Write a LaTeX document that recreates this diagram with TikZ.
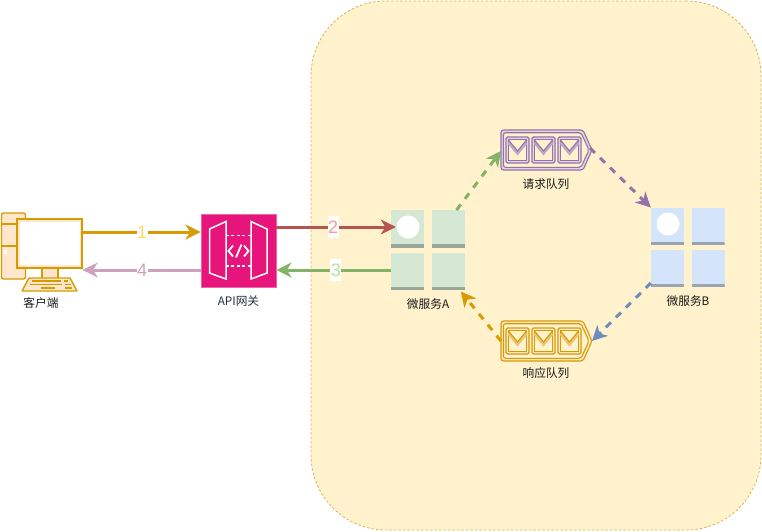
\documentclass[tikz,border=0pt]{standalone}
\usepackage{fontspec}
\setmainfont{Liberation Sans}
\newfontfamily\cjk{Noto Sans CJK SC}
\usetikzlibrary{arrows.meta,calc}
\definecolor{orangeS}{HTML}{D79B00}
\definecolor{orangeF}{HTML}{FFE6CC}
\definecolor{panelF}{HTML}{FFF2CC}
\definecolor{panelS}{HTML}{D6B656}
\definecolor{redS}{HTML}{B85450}
\definecolor{greenS}{HTML}{82B366}
\definecolor{blueS}{HTML}{6C8EBF}
\definecolor{purpleS}{HTML}{9673A6}
\definecolor{purpleF}{HTML}{E1D5E7}
\definecolor{pinkS}{HTML}{CDA2BE}
\definecolor{gwF}{HTML}{E7157B}
\definecolor{gwS}{HTML}{F065A8}
\definecolor{greenF}{HTML}{D5E8D4}
\definecolor{blueF}{HTML}{D4E4FA}
\definecolor{textC}{HTML}{232F3E}
\definecolor{lab1}{HTML}{FFD966}
\definecolor{lab2}{HTML}{F19C99}
\definecolor{lab3}{HTML}{B9E0A5}
\definecolor{lab4}{HTML}{CDA2BE}
\tikzset{
  conn/.style={line width=3pt,-{Stealth[length=15pt,width=15pt,inset=4.5pt]}},
  dashconn/.style={conn,dash pattern=on 7pt off 7pt},
  numlabel/.style={fill=white,inner sep=0.5pt,font=\fontsize{18}{18}\selectfont,minimum height=22pt,minimum width=11pt},
  caption/.style={font=\cjk\fontsize{11.7}{12}\selectfont,text=black!90,inner sep=0pt},
  tile/.style={minimum width=33pt,minimum height=37.5pt,inner sep=0pt,fill=#1,
    path picture={\fill[black,opacity=0.28] (path picture bounding box.south west) rectangle ([yshift=3.4pt]path picture bounding box.south east);}},
  dot/.style={circle,fill=white,minimum size=23pt,inner sep=0pt},
  box/.style={inner sep=0pt,rectangle},
}
\newcommand{\envelope}[4]{% center x, center y, stroke, fill
  \draw[line width=1.1pt,#3,fill=#4,rounded corners=1.5pt] (#1-11.5,#2-13) rectangle (#1+11.5,#2+13);
  \draw[line width=1.1pt,#3,fill=panelF] (#1-9.3,#2-10.3) rectangle (#1+9.3,#2+10.3);
  \draw[line width=2.6pt,#3!45!#4] (#1-9,#2-7.5) -- (#1,#2+3.5) -- (#1+9,#2-7.5);
  \draw[line width=1.1pt,#3] (#1-9.3,#2-10.3) -- (#1,#2+1) -- (#1+9.3,#2-10.3);
}
\newcommand{\queueshape}[3]{% center y, stroke, fill
  \draw[#2,fill=#3,line width=1.1pt,rounded corners=2.5pt] (501,#1-20) -- (583,#1-20) -- (592,#1) -- (583,#1+20) -- (501,#1+20) -- cycle;
  \draw[#2,fill=panelF,line width=1.1pt,rounded corners=2pt] (503.5,#1-17.3) -- (581,#1-17.3) -- (589,#1) -- (581,#1+17.3) -- (503.5,#1+17.3) -- cycle;
  \envelope{517.5}{#1}{#2}{#3}
  \envelope{543.5}{#1}{#2}{#3}
  \envelope{569.5}{#1}{#2}{#3}
}
\begin{document}
\begin{tikzpicture}[x=1pt,y=-1pt]
\useasboundingbox (0,0) rectangle (762,531);
% panel
\node[box,draw=panelS,fill=panelF,dash pattern=on 2.5pt off 2pt,line width=0.8pt,rounded corners=75pt,minimum width=450pt,minimum height=529pt] (panel) at (536,265.5) {};

% client
\node[box,draw=orangeS,fill=orangeF,line width=1.4pt,rounded corners=2pt,minimum width=24pt,minimum height=66pt] (tower) at (13.5,246) {};
\draw[orangeS,line width=1.4pt] (1.5,224) -- (25.5,224) (1.5,246) -- (25.5,246);
\fill[white] (4,250) rectangle (7,254);
\node[box,draw=orangeS,fill=orangeF,line width=1.4pt,minimum width=16pt,minimum height=12pt] (stand) at (50,273) {};
\draw[orangeS,fill=orangeF,line width=1.4pt,rounded corners=0.5pt] (29,278) -- (70,278) -- (77,291) -- (22,291) -- cycle;
\draw[orangeS,line width=1.3pt] (32,281) -- (61,281) (64,281) -- (68,281) (30,284.5) -- (62,284.5) (65,284.5) -- (71,284.5) (41,288) -- (55,288) (65,288) -- (72,288);
\node[box,draw=orangeS,fill=orangeF,line width=1.4pt,minimum width=65pt,minimum height=49pt] (screen) at (49.5,243.5) {};
\fill[white] (20,221.5) rectangle (79.5,265);
\node[caption] (clientL) at (41,303) {客户端};

% gateway
\node[box,draw=gwS,fill=gwF,line width=0.8pt,minimum width=75pt,minimum height=73pt] (gw) at (238.5,250.5) {};
\draw[white,line width=1.5pt] (209.5,229) -- (226,221.5) -- (226,279) -- (209.5,273) -- cycle;
\draw[white,line width=1.5pt] (251,221.5) -- (267,229) -- (267,273) -- (251,279) -- cycle;
\draw[white,line width=1.9pt,dash pattern=on 3pt off 2.4pt] (226,235.5) -- (251,235.5) (226,266) -- (251,266);
\draw[white,line width=1.8pt] (233,245.5) -- (228.5,251) -- (233,256.5) (244,245.5) -- (248.5,251) -- (244,256.5) (241.5,244.5) -- (236,257.5);
\node[caption,font=\fontsize{11.7}{12}\selectfont\cjk,text=textC] (gwL) at (238.5,301) {API网关};

% service A
\node[tile=greenF] (a1) at (407.5,229) {};
\node[tile=greenF] (a2) at (448.5,229) {};
\node[tile=greenF] (a3) at (407.5,271.5) {};
\node[tile=greenF] (a4) at (448.5,271.5) {};
\node[dot] (adot) at (408,227) {};
\node[caption] (aL) at (428,304) {微服务A};

% service B
\node[tile=blueF] (b1) at (667.5,226.5) {};
\node[tile=blueF] (b2) at (708,226.5) {};
\node[tile=blueF] (b3) at (667.5,268.5) {};
\node[tile=blueF] (b4) at (708,268.5) {};
\node[dot] (bdot) at (668,224) {};
\node[caption] (bL) at (688,301) {微服务B};

% queues
\queueshape{150}{purpleS}{purpleF}
\coordinate (qReqW) at (501,151);
\coordinate (qReqE) at (590,148);
\node[caption] (qReqL) at (546,184) {请求队列};
\queueshape{341}{orangeS}{orangeF}
\coordinate (qResW) at (501,341);
\coordinate (qResE) at (592,341);
\node[caption] (qResL) at (546,373) {响应队列};

% connectors
\draw[conn,orangeS] (screen.east |- 0,232) -- (gw.west |- 0,232) node[numlabel,text=lab1,pos=0.505] (n1) {1};
\draw[conn,pinkS] (gw.west |- 0,270) -- (screen.east |- 0,270) node[numlabel,text=lab4,pos=0.495] (n4) {4};
\draw[conn,redS] (gw.east |- 0,227) -- ([xshift=5pt]a1.west |- 0,227) node[numlabel,text=lab2,pos=0.475] (n2) {2};
\draw[conn,greenS] (a3.west |- 0,270) -- (gw.east |- 0,270) node[numlabel,text=lab3,pos=0.48] (n3) {3};
\draw[dashconn,greenS] (a2.north |- 0,210) ++(8,0) -- (qReqW);
\draw[dashconn,purpleS] (qReqE) -- (b1.north west);
\draw[dashconn,blueS] (b3.south west |- 0,283) -- (qResE);
\draw[dashconn,orangeS] (qResW) -- ($(a4.south west)+(29,1)$);
\end{tikzpicture}
\end{document}
